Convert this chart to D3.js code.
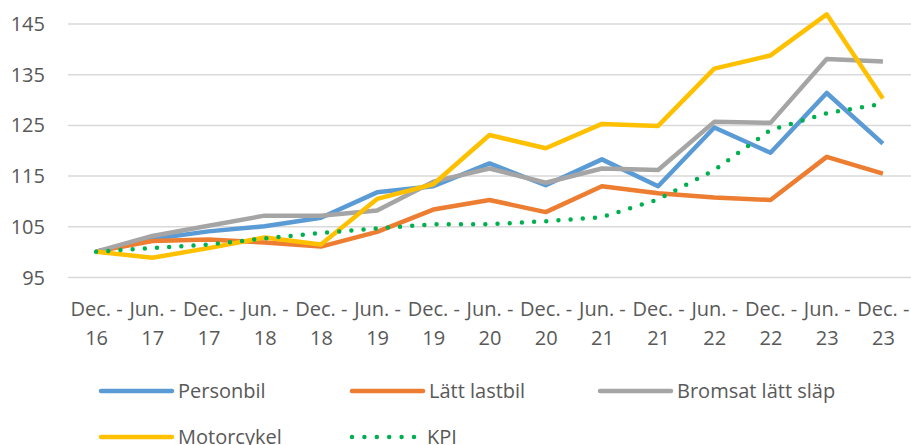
<!DOCTYPE html>
<html>
<head>
<meta charset="utf-8">
<script src="https://cdn.jsdelivr.net/npm/d3@7"></script>
<style>
  body { margin: 0; background: #fff; }
  text { font-family: "Open Sans", sans-serif; fill: #595959; }
</style>
</head>
<body>
<div id="chart"></div>
<script>
// data
const categories = ["Dec. -16", "Jun. -17", "Dec. -17", "Jun. -18", "Dec. -18", "Jun. -19", "Dec. -19", "Jun. -20",
    "Dec. -20", "Jun. -21", "Dec. -21", "Jun. -22", "Dec. -22", "Jun. -23", "Dec. -23"];
const personbil = [100, 102.5, 104, 105, 106.7, 111.7, 112.9, 117.4, 113.1, 118.2, 112.9, 124.5, 119.5, 131.3, 121.3];
const lattLastbil = [100, 102.1, 102.4, 101.8, 101.0, 103.9, 108.3, 110.2, 107.8, 112.9, 111.5, 110.7, 110.2, 118.7, 115.4];
const bromsatSlap = [100, 103.1, 105.1, 107.1, 107.1, 108.1, 113.8, 116.4, 113.6, 116.4, 116.1, 125.6, 125.4, 138.0, 137.5];
const motorcykel = [100, 98.8, 100.7, 102.8, 101.4, 110.4, 113.3, 123.0, 120.4, 125.2, 124.8, 136.1, 138.7, 146.8, 130.2];
const kpi = [100, 100.7, 101.4, 102.6, 103.7, 104.6, 105.4, 105.4, 106.0, 106.8, 110.3, 116.1, 124.0, 127.3, 129.2];
const yTicks = [95, 105, 115, 125, 135, 145];

const series = [
    { name: "Personbil", values: personbil, color: "#5B9BD5", dotted: false },
    { name: "Lätt lastbil", values: lattLastbil, color: "#ED7D31", dotted: false },
    { name: "Bromsat lätt släp", values: bromsatSlap, color: "#A5A5A5", dotted: false },
    { name: "Motorcykel", values: motorcykel, color: "#FFC000", dotted: false },
    { name: "KPI", values: kpi, color: "#00B050", dotted: true }
];

const W = 911, H = 445;
const margin = { top: 23.5, right: 0, bottom: 168, left: 68 };
const fontSize = "20px";

const svg = d3.select("#chart").append("svg")
    .attr("width", W)
    .attr("height", H);

const x = d3.scalePoint()
    .domain(categories)
    .range([margin.left, W - margin.right])
    .padding(0.5);
const y = d3.scaleLinear()
    .domain([95, 145])
    .range([H - margin.bottom, margin.top]);

// y axis with gridlines
const yAxis = svg.append("g")
    .attr("transform", "translate(" + margin.left + ",0)")
    .call(d3.axisLeft(y).tickValues(yTicks).tickSize(-(W - margin.left - margin.right)).tickPadding(23));
yAxis.select(".domain").remove();
yAxis.selectAll(".tick line").attr("stroke", "#D9D9D9").attr("stroke-width", 1.5);
yAxis.selectAll(".tick text").style("font-size", fontSize).attr("dy", "0.35em");

// x axis, labels wrapped after the hyphen
const xAxis = svg.append("g")
    .attr("transform", "translate(0," + (H - margin.bottom) + ")")
    .call(d3.axisBottom(x).tickSize(0).tickPadding(0));
xAxis.select(".domain").remove();
xAxis.selectAll(".tick text").each(function (d) {
    const parts = d.split("-");
    const t = d3.select(this).text(null).style("font-size", fontSize).attr("y", 0).attr("dy", null);
    t.append("tspan").attr("x", 0).attr("y", 39).text(parts[0] + "-");
    t.append("tspan").attr("x", 0).attr("y", 68).text(parts[1]);
});

// lines
const line = d3.line()
    .x((d, i) => x(categories[i]))
    .y((d) => y(d));

for (const s of series) {
    svg.append("path")
        .datum(s.values)
        .attr("fill", "none")
        .attr("stroke", s.color)
        .attr("stroke-width", 4.5)
        .attr("stroke-linejoin", "round")
        .attr("stroke-linecap", s.dotted ? "round" : "butt")
        .attr("stroke-dasharray", s.dotted ? "0 12.2" : null)
        .attr("d", line);
}

// legend (second row is cut by the bottom edge, as in the original)
const legendPos = [[101, 391], [352, 391], [600, 391], [101, 437], [352, 437]];
series.forEach((s, i) => {
    const g = svg.append("g").attr("transform", "translate(" + legendPos[i][0] + "," + legendPos[i][1] + ")");
    g.append("line")
        .attr("x1", 0).attr("x2", s.dotted ? 64 : 71)
        .attr("stroke", s.color)
        .attr("stroke-width", 4.5)
        .attr("stroke-linecap", "round")
        .attr("stroke-dasharray", s.dotted ? "0 12.4" : null);
    g.append("text")
        .attr("x", s.dotted ? 75 : 77)
        .attr("dy", "0.35em")
        .style("font-size", fontSize)
        .text(s.name);
});
</script>
</body>
</html>
